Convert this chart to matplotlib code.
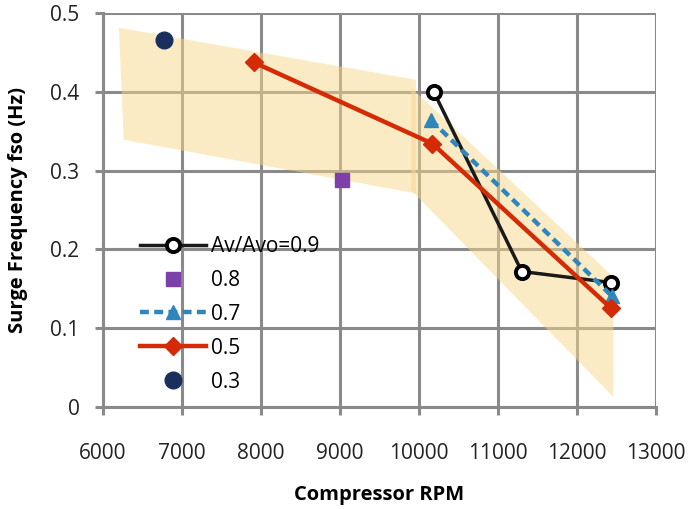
import matplotlib.pyplot as plt
from matplotlib.patches import Polygon

# data
rpm_09 = [10190, 11300, 12430]
f_09 = [0.399, 0.172, 0.158]
rpm_08 = [9020]
f_08 = [0.288]
rpm_07 = [10150, 12440]
f_07 = [0.364, 0.141]
rpm_05 = [7910, 10170, 12425]
f_05 = [0.437, 0.334, 0.126]
rpm_03 = [6765]
f_03 = [0.466]

# shaded bands
band1_x = [6200, 9960, 9960, 6260]
band1_y = [0.481, 0.415, 0.271, 0.339]
band2_x = [9900, 12460, 12460, 9900]
band2_y = [0.405, 0.165, 0.013, 0.275]

plt.rcParams['font.family'] = ['Open Sans', 'DejaVu Sans']

fig = plt.figure(figsize=(6.92, 5.09), dpi=100)
ax = fig.add_axes([0.149, 0.200, 0.799, 0.775])

for bx, by in [(band1_x, band1_y), (band2_x, band2_y)]:
    ax.add_patch(Polygon(list(zip(bx, by)), closed=True, facecolor='#f9d98a',
                         edgecolor='none', alpha=0.5, zorder=3))

ax.plot(rpm_09, f_09, '-o', color='#1a1a1a', lw=2.5, ms=9.5, mfc='white',
        mec='black', mew=2.8, label='Av/Avo=0.9', zorder=5)
ax.plot(rpm_08, f_08, 's', color='#7d3fa9', ms=10, ls='none', label='0.8', zorder=5)
ax.plot(rpm_07, f_07, '--^', color='#2e86bd', lw=3.2, ms=10, dashes=(2, 1.2),
        label='0.7', zorder=5)
ax.plot(rpm_05, f_05, '-D', color='#d42a06', lw=3.2, ms=9, label='0.5', zorder=6)
ax.plot(rpm_03, f_03, 'o', color='#1a2f5e', ms=12, ls='none', label='0.3', zorder=5)

ax.set_xlim(6000, 13000)
ax.set_ylim(0, 0.5)
ax.set_xticks(range(6000, 13001, 1000))
ax.set_yticks([0, 0.1, 0.2, 0.3, 0.4, 0.5])
ax.set_yticklabels(['0', '0.1', '0.2', '0.3', '0.4', '0.5'])
ax.grid(True, color='#8a8a8a', lw=2.2, zorder=1)
ax.set_axisbelow(True)
for s in ['top', 'right']:
    ax.spines[s].set_visible(False)
for s in ['left', 'bottom']:
    ax.spines[s].set_color('#8a8a8a')
    ax.spines[s].set_linewidth(2.2)
ax.tick_params(colors='#8a8a8a', width=2.2, length=6, labelsize=15,
               labelcolor='#222222')
ax.tick_params(axis='x', pad=20)
ax.tick_params(axis='y', pad=11)

ax.set_xlabel('Compressor RPM', fontsize=14.5, fontweight='bold', labelpad=15)
ax.set_ylabel('Surge Frequency fso (Hz)', fontsize=14.5, fontweight='bold')
ax.yaxis.set_label_coords(-0.136, 0.5)

ax.legend(loc='lower left', bbox_to_anchor=(0.04, 0.0), frameon=False,
          fontsize=15, handlelength=3.2, handletextpad=0.2, labelspacing=0.62,
          borderpad=0.2)

fig.savefig('out.png', dpi=100)
